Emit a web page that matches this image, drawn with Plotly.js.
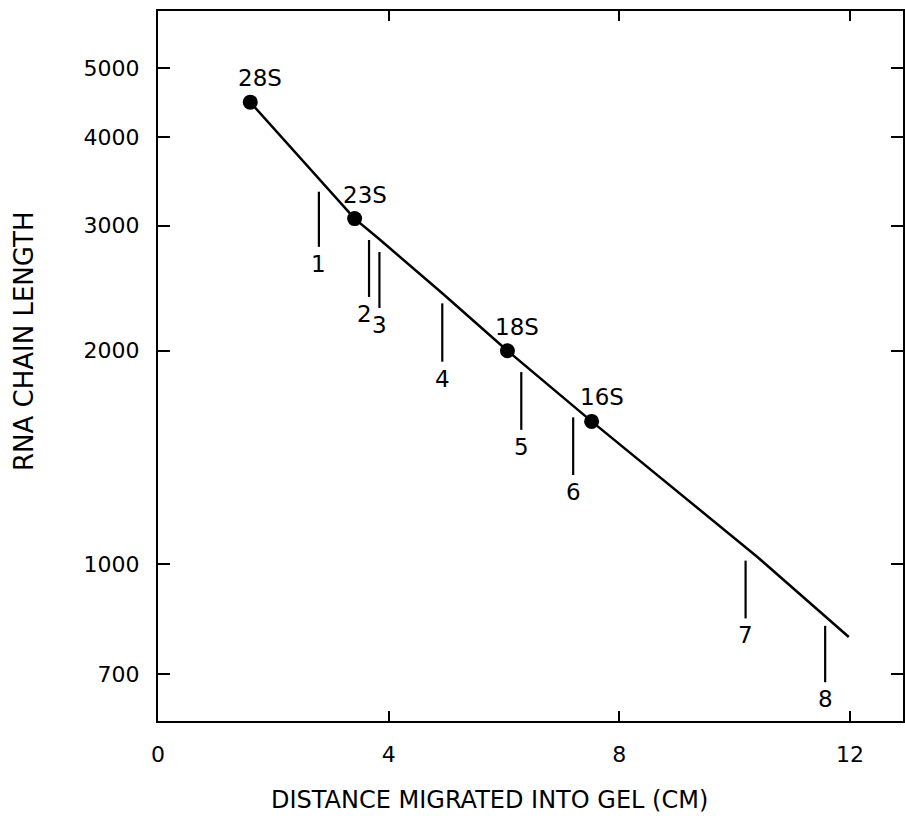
<!DOCTYPE html>
<html>
<head>
<meta charset="utf-8">
<script src="https://cdn.plot.ly/plotly-3.0.1.min.js"></script>
<style>
  html, body { margin: 0; padding: 0; background: #ffffff; overflow: hidden; }
  #chart { width: 905px; height: 816px; display: block; }
</style>
</head>
<body>
<div id="chart"></div>
<script>
// ---- data ----
const curveX = [1.60, 3.41, 3.82, 4.93, 6.06, 7.52, 10.39, 11.98];
const curveY = [4480, 3070, 2880, 2410, 2000, 1590, 1025, 790];

const stdNames = ['28S', '23S', '18S', '16S'];
const stdX = [1.60, 3.41, 6.06, 7.52];
const stdY = [4480, 3070, 2000, 1590];

const laneNames = ['1', '2', '3', '4', '5', '6', '7', '8'];
const laneX = [2.79, 3.66, 3.84, 4.93, 6.30, 7.20, 10.19, 11.57];
const laneTop = [3350, 2864, 2755, 2332, 1866, 1611, 1012, 819];
const laneBottom = [2801, 2381, 2297, 1930, 1547, 1336, 839, 682];

const xTickVals = [0, 4, 8, 12];
const xTickText = ['0', '4', '8', '12'];
const yTickVals = [700, 1000, 2000, 3000, 4000, 5000];
const yTickText = ['700', '1000', '2000', '3000', '4000', '5000'];

const xTitle = 'DISTANCE MIGRATED INTO GEL (CM)';
const yTitle = 'RNA CHAIN LENGTH';

// ---- build traces ----
const FONT = 'DejaVu Sans, Arial, sans-serif';
const labelNudge = { '2': -5 };   // pixel nudge so the close "2" and "3" labels separate

const segX = [], segY = [];
laneX.forEach((x, i) => {
  segX.push(x, x, null);
  segY.push(laneTop[i], laneBottom[i], null);
});

const traces = [
  {
    type: 'scatter', mode: 'lines', x: curveX, y: curveY,
    line: { color: '#000', width: 2.5 }, hoverinfo: 'skip', showlegend: false
  },
  {
    type: 'scatter', mode: 'markers', x: stdX, y: stdY, text: stdNames,
    marker: { color: '#000', size: 15 }, showlegend: false
  },
  {
    type: 'scatter', mode: 'lines', x: segX, y: segY,
    line: { color: '#000', width: 2.2 }, hoverinfo: 'skip', showlegend: false,
    connectgaps: false
  }
];

const annotations = [];
stdNames.forEach((n, i) => {
  annotations.push({
    x: stdX[i], y: Math.log10(stdY[i]), xref: 'x', yref: 'y',
    text: n, showarrow: false, xanchor: 'center', yanchor: 'bottom',
    xshift: 10, yshift: 9,
    font: { family: FONT, size: 23, color: '#000' }
  });
});
laneNames.forEach((n, i) => {
  annotations.push({
    x: laneX[i], y: Math.log10(laneBottom[i]), xref: 'x', yref: 'y',
    text: n, showarrow: false, xanchor: 'center', yanchor: 'top',
    xshift: labelNudge[n] || 0, yshift: -2,
    font: { family: FONT, size: 23, color: '#000' }
  });
});
annotations.push({
  xref: 'paper', yref: 'paper', x: 0.4443, y: -0.1338,
  xanchor: 'center', yanchor: 'bottom', showarrow: false,
  text: xTitle, font: { family: FONT, size: 24, color: '#000' }
});
annotations.push({
  xref: 'paper', yref: 'paper', x: -0.1799, y: 0.5352,
  xanchor: 'center', yanchor: 'middle', showarrow: false, textangle: -90,
  text: yTitle, font: { family: FONT, size: 26, color: '#000' }
});

const layout = {
  width: 905, height: 816, autosize: false,
  margin: { l: 158, r: 2, t: 11, b: 95, pad: 0 },
  paper_bgcolor: '#ffffff', plot_bgcolor: '#ffffff',
  showlegend: false,
  font: { family: FONT, color: '#000' },
  xaxis: {
    range: [0, 12.92], autorange: false, showgrid: false, zeroline: false,
    showline: true, linecolor: '#000', linewidth: 2, mirror: 'ticks',
    ticks: 'inside', ticklen: 10, tickwidth: 2, tickcolor: '#000',
    tickmode: 'array', tickvals: xTickVals, ticktext: xTickText,
    tickfont: { family: FONT, size: 22, color: '#000' },
    ticklabelstandoff: 13, automargin: false
  },
  yaxis: {
    type: 'log', range: [2.7792, 3.7797], autorange: false, showgrid: false, zeroline: false,
    showline: true, linecolor: '#000', linewidth: 2, mirror: 'ticks',
    ticks: 'inside', ticklen: 12, tickwidth: 2, tickcolor: '#000',
    tickmode: 'array', tickvals: yTickVals, ticktext: yTickText,
    tickfont: { family: FONT, size: 22, color: '#000' },
    ticklabelstandoff: 12, automargin: false
  },
  annotations: annotations
};

Plotly.newPlot('chart', traces, layout, { staticPlot: true, displayModeBar: false });
</script>
</body>
</html>
